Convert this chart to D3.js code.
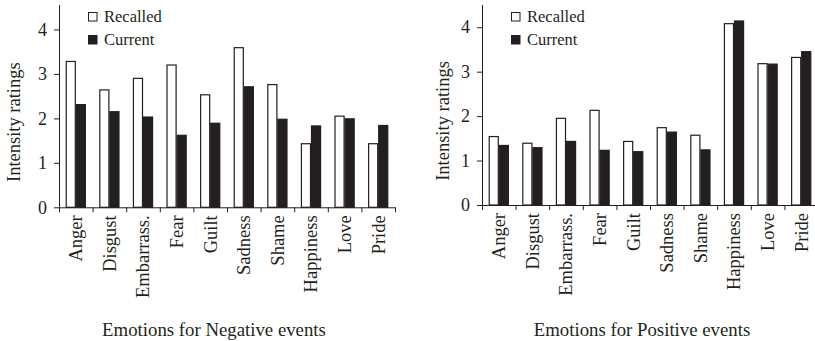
<!DOCTYPE html>
<html lang="en">
<head>
<meta charset="UTF-8">
<script src="https://d3js.org/d3.v7.min.js"></script>
<title>Intensity ratings</title>
<style>
  body { margin: 0; background: #fff; }
  svg text { font-family: "Liberation Serif", "Times New Roman", Times, "DejaVu Serif", serif !important; fill: #231f20; }
</style>
</head>
<body>
<script>
// data
const categories = ["Anger", "Disgust", "Embarrass.", "Fear", "Guilt", "Sadness", "Shame", "Happiness", "Love", "Pride"];
const seriesNames = ["Recalled", "Current"];
const negRecalled = [3.28, 2.64, 2.90, 3.20, 2.53, 3.59, 2.76, 1.43, 2.05, 1.43];
const negCurrent  = [2.31, 2.15, 2.03, 1.62, 1.89, 2.71, 1.98, 1.83, 1.99, 1.84];
const posRecalled = [1.54, 1.39, 1.95, 2.13, 1.43, 1.74, 1.57, 4.08, 3.18, 3.32];
const posCurrent  = [1.34, 1.29, 1.43, 1.23, 1.20, 1.64, 1.24, 4.14, 3.17, 3.45];
const yTicks = [0, 1, 2, 3, 4];
const yLabel = "Intensity ratings";
const panelTitles = ["Emotions for Negative events", "Emotions for Positive events"];

const w = 815, h = 341;
const ink = "#231f20";

const svg = d3.select("body").append("svg")
  .attr("width", w)
  .attr("height", h);

// layout for the two panels
const panels = [
  { left: 59, base: 207.3, top: 5, yMax: 4.55, labelX: -45, titleX: 155, title: panelTitles[0], recalled: negRecalled, current: negCurrent },
  { left: 482, base: 205, top: 5, yMax: 4.5, labelX: -39.5, titleX: 160, title: panelTitles[1], recalled: posRecalled, current: posCurrent }
];

const plotW = 336;

panels.forEach(p => {
  const g = svg.append("g").attr("transform", "translate(" + p.left + ",0)");

  const x0 = d3.scaleBand()
    .domain(categories)
    .range([0, plotW])
    .paddingInner(0.4)
    .paddingOuter(0.2);

  const x1 = d3.scaleBand()
    .domain(seriesNames)
    .range([0, x0.bandwidth()]);

  const y = d3.scaleLinear()
    .domain([0, p.yMax])
    .range([p.base, p.top]);

  const color = d3.scaleOrdinal().domain(seriesNames).range(["#ffffff", ink]);

  const rows = categories.map((c, i) => ({ cat: c, Recalled: p.recalled[i], Current: p.current[i] }));

  // bars
  g.selectAll("g.grp")
    .data(rows)
    .enter()
    .append("g")
    .attr("class", "grp")
    .attr("transform", d => "translate(" + x0(d.cat) + ",0)")
    .selectAll("rect")
    .data(d => seriesNames.map(s => ({ s: s, v: d[s] })))
    .enter()
    .append("rect")
    .attr("x", d => x1(d.s) + 0.5)
    .attr("y", d => y(d.v))
    .attr("width", x1.bandwidth() - 1)
    .attr("height", d => y(0) - y(d.v))
    .attr("fill", d => color(d.s))
    .attr("stroke", ink)
    .attr("stroke-width", 1.2);

  // y axis
  const yAxis = d3.axisLeft(y)
    .tickValues(yTicks)
    .tickFormat(d3.format("d"))
    .tickSize(5)
    .tickSizeOuter(0)
    .tickPadding(7);

  const ya = g.append("g").call(yAxis);
  ya.select(".domain").attr("stroke", ink).attr("d", "M0.5," + p.top + "V" + p.base);
  ya.selectAll(".tick line").attr("stroke", ink);
  ya.selectAll(".tick text")
    .attr("font-size", 18)
    .attr("fill", ink);

  // x axis: tick marks at the band boundaries
  const xb = d3.scaleLinear().domain([0, categories.length]).range([0, plotW]);
  const xa = g.append("g")
    .attr("transform", "translate(0," + p.base + ")")
    .call(d3.axisBottom(xb).ticks(categories.length).tickSize(5).tickSizeOuter(0).tickFormat(""));
  xa.select(".domain").attr("stroke", ink);
  xa.selectAll(".tick line").attr("stroke", ink);

  // category labels, rotated
  g.selectAll("text.cat")
    .data(categories)
    .enter()
    .append("text")
    .attr("class", "cat")
    .attr("transform", d => "translate(" + (x0(d) + x0.bandwidth() / 2) + "," + (p.base + 8) + ") rotate(-90)")
    .attr("text-anchor", "end")
    .attr("dy", "0.35em")
    .attr("font-size", 18.5)
    .text(d => d);

  // y label
  g.append("text")
    .attr("transform", "translate(" + p.labelX + "," + ((p.top + p.base) / 2 + 16) + ") rotate(-90)")
    .attr("text-anchor", "middle")
    .attr("dy", "0.35em")
    .attr("font-size", 18.5)
    .text(yLabel);

  // legend
  const lg = g.append("g").attr("transform", "translate(29,12)");
  seriesNames.forEach((s, i) => {
    lg.append("rect")
      .attr("x", 0.5)
      .attr("y", i * 23 + 0.5)
      .attr("width", 8.5)
      .attr("height", 8.5)
      .attr("fill", color(s))
      .attr("stroke", ink)
      .attr("stroke-width", 1);
    lg.append("text")
      .attr("x", 16)
      .attr("y", i * 23 + 9.5)
      .attr("font-size", 16.5)
      .text(s);
  });

  // panel title
  g.append("text")
    .attr("x", p.titleX)
    .attr("y", 336)
    .attr("text-anchor", "middle")
    .attr("font-size", 18.8)
    .text(p.title);
});
</script>
</body>
</html>
